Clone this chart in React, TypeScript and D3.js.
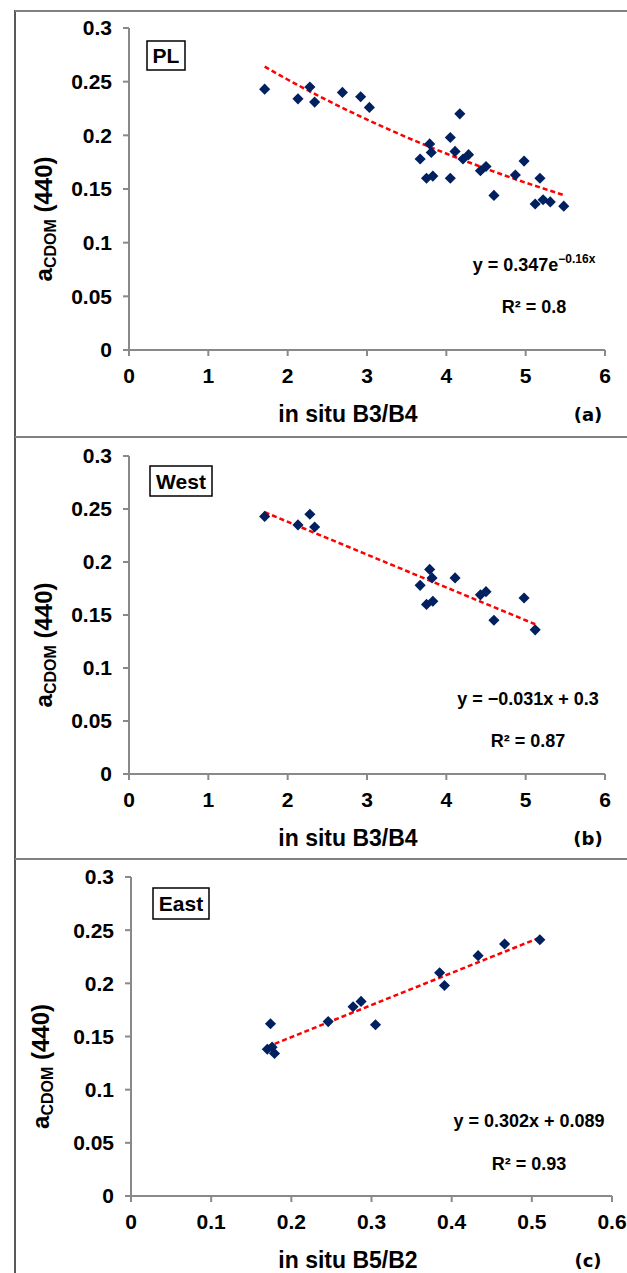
import React from "react";
import * as d3 from "d3";

// panel (a) PL
const plX = [1.71, 2.13, 2.28, 2.34, 2.69, 2.92, 3.03, 4.17, 4.05, 3.79, 3.81, 3.67, 4.11, 4.28, 4.21, 3.75, 3.83, 4.05, 4.43, 4.5, 4.6, 4.87, 4.98, 5.18, 5.12, 5.22, 5.31, 5.48];
const plY = [0.243, 0.234, 0.245, 0.231, 0.24, 0.236, 0.226, 0.22, 0.198, 0.192, 0.184, 0.178, 0.185, 0.182, 0.178, 0.16, 0.162, 0.16, 0.167, 0.171, 0.144, 0.163, 0.176, 0.16, 0.136, 0.14, 0.138, 0.134];
const plFit = [0.347, -0.16]; // y = a * e^(b x)

// panel (b) West
const westX = [1.71, 2.13, 2.28, 2.34, 3.79, 3.82, 3.67, 4.11, 3.75, 3.83, 4.43, 4.5, 4.6, 4.98, 5.12];
const westY = [0.243, 0.235, 0.245, 0.233, 0.193, 0.185, 0.178, 0.185, 0.16, 0.163, 0.169, 0.172, 0.145, 0.166, 0.136];
const westFit = [-0.031, 0.3]; // y = a x + b

// panel (c) East
const eastX = [0.174, 0.17, 0.176, 0.179, 0.246, 0.277, 0.287, 0.305, 0.385, 0.391, 0.433, 0.466, 0.51];
const eastY = [0.162, 0.138, 0.14, 0.134, 0.164, 0.178, 0.183, 0.161, 0.21, 0.198, 0.226, 0.237, 0.241];
const eastFit = [0.302, 0.089];

const yTicks = [0, 0.05, 0.1, 0.15, 0.2, 0.25, 0.3];
const ratioTicks = [0, 1, 2, 3, 4, 5, 6];
const b5b2Ticks = [0, 0.1, 0.2, 0.3, 0.4, 0.5, 0.6];

const FONT = "'Liberation Sans', Arial, Helvetica, sans-serif";
const AXIS = "#898989";
const MARK = "#002060";

const panels = [
  {
    tag: "PL", letter: "(a)", xs: plX, ys: plY, xTicks: ratioTicks, xTitle: "in situ B3/B4",
    fit: (x) => plFit[0] * Math.exp(plFit[1] * x),
    eq: ["y = 0.347e", "−0.16x"], r2: "R² = 0.8",
    plot: { left: 129, right: 605, top: 28, bottom: 350 },
    box: { x: 147, y: 41, w: 38, h: 29 }, eqX: 534, eqY: 271, r2Y: 313, yTitleX: 44,
  },
  {
    tag: "West", letter: "(b)", xs: westX, ys: westY, xTicks: ratioTicks, xTitle: "in situ B3/B4",
    fit: (x) => westFit[0] * x + westFit[1],
    eq: ["y = −0.031x + 0.3"], r2: "R² = 0.87",
    plot: { left: 129, right: 605, top: 456, bottom: 774 },
    box: { x: 150, y: 466, w: 62, h: 30 }, eqX: 528, eqY: 705, r2Y: 747, yTitleX: 44,
  },
  {
    tag: "East", letter: "(c)", xs: eastX, ys: eastY, xTicks: b5b2Ticks, xTitle: "in situ B5/B2",
    fit: (x) => eastFit[0] * x + eastFit[1],
    eq: ["y = 0.302x + 0.089"], r2: "R² = 0.93",
    plot: { left: 131, right: 612, top: 877, bottom: 1196 },
    box: { x: 153, y: 888, w: 56, h: 31 }, eqX: 529, eqY: 1127, r2Y: 1170, yTitleX: 41,
  },
];

const diamond = d3.symbol().type(d3.symbolSquare).size(62)();

function Panel({ p }) {
  const { left, right, top, bottom } = p.plot;
  const x = d3.scaleLinear().domain(d3.extent(p.xTicks)).range([left, right]);
  const y = d3.scaleLinear().domain([0, 0.3]).range([bottom, top]);
  const [x0, x1] = d3.extent(p.xs);
  const trend = d3.range(0, 41).map((i) => x0 + ((x1 - x0) * i) / 40);
  const line = d3.line().x((d) => x(d)).y((d) => y(p.fit(d)));
  const titleY = (top + bottom) / 2 + 30;

  return (
    <g fontFamily={FONT} fontWeight="bold">
      {/* axes */}
      <line x1={left} x2={left} y1={top} y2={bottom} stroke={AXIS} strokeWidth={2} />
      <line x1={left} x2={right} y1={bottom} y2={bottom} stroke={AXIS} strokeWidth={2} />
      {yTicks.map((t) => (
        <g key={"y" + t}>
          <line x1={left - 6} x2={left} y1={y(t)} y2={y(t)} stroke={AXIS} strokeWidth={2} />
          <text x={left - 17} y={y(t)} dy="0.35em" textAnchor="end" fontSize={21}>
            {String(t)}
          </text>
        </g>
      ))}
      {p.xTicks.map((t) => (
        <g key={"x" + t}>
          <line x1={x(t)} x2={x(t)} y1={bottom} y2={bottom + 6} stroke={AXIS} strokeWidth={2} />
          <text x={x(t)} y={bottom + 33} textAnchor="middle" fontSize={21}>
            {String(t)}
          </text>
        </g>
      ))}

      {/* titles */}
      <text x={348} y={bottom + 72} textAnchor="middle" fontSize={23}>{p.xTitle}</text>
      <text x={588} y={bottom + 71} textAnchor="middle" fontSize={18} fontFamily="'DejaVu Sans', sans-serif">
        {p.letter}
      </text>
      <text transform={`translate(${p.yTitleX + 8},${titleY}) rotate(-90)`} textAnchor="middle" fontSize={24}>
        a<tspan fontSize={16} dy={4}>CDOM</tspan>
        <tspan dy={-4}> (440)</tspan>
      </text>

      {/* region tag */}
      <rect x={p.box.x} y={p.box.y} width={p.box.w} height={p.box.h} fill="#fff" stroke="#000" strokeWidth={1.5} />
      <text x={p.box.x + p.box.w / 2} y={p.box.y + p.box.h / 2 + 7.5} textAnchor="middle" fontSize={21}>
        {p.tag}
      </text>

      {/* trend line */}
      <path d={line(trend)} fill="none" stroke="#ff0000" strokeWidth={2.5} strokeDasharray="5,3" />

      {/* points */}
      {p.xs.map((d, i) => (
        <path key={i} d={diamond} transform={`translate(${x(d)},${y(p.ys[i])}) rotate(45)`} fill={MARK} />
      ))}

      {/* fit text */}
      <text x={p.eqX} y={p.eqY} textAnchor="middle" fontSize={18}>
        {p.eq[0]}
        {p.eq[1] && (
          <tspan fontSize={12} dy={-8}>{p.eq[1]}</tspan>
        )}
      </text>
      <text x={p.eqX} y={p.r2Y} textAnchor="middle" fontSize={18}>{p.r2}</text>
    </g>
  );
}

export default function App() {
  return (
    <svg width={627} height={1273} style={{ position: "absolute", left: 0, top: 0, background: "#fff" }}>
      <rect width={627} height={1273} fill="#fff" />
      <line x1={15} x2={15} y1={10} y2={1273} stroke="#222" strokeWidth={1.5} />
      <line x1={15} x2={627} y1={11} y2={11} stroke="#808080" strokeWidth={2} />
      <line x1={15} x2={627} y1={437} y2={437} stroke="#808080" strokeWidth={2} />
      <line x1={15} x2={627} y1={859} y2={859} stroke="#808080" strokeWidth={2} />
      {panels.map((p) => (
        <Panel key={p.tag} p={p} />
      ))}
    </svg>
  );
}
